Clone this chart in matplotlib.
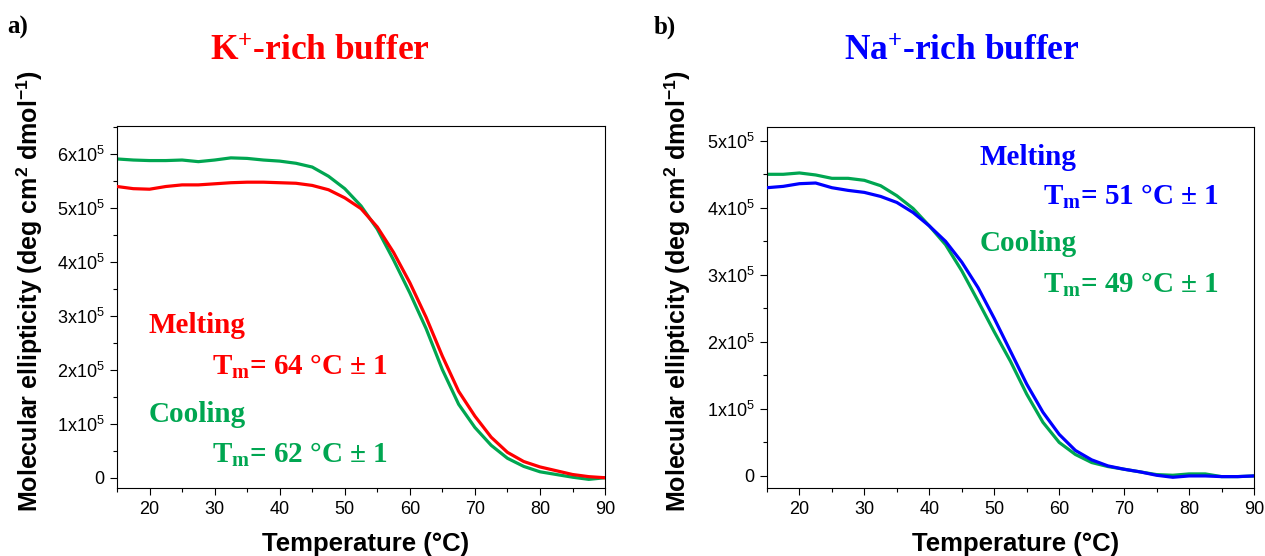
import matplotlib
matplotlib.use("Agg")
import matplotlib.pyplot as plt
from matplotlib.ticker import MultipleLocator, FuncFormatter

plt.rcParams['font.family'] = ['Liberation Sans', 'DejaVu Sans']
plt.rcParams['mathtext.fontset'] = 'custom'
plt.rcParams['mathtext.rm'] = 'Liberation Serif:bold'
plt.rcParams['mathtext.it'] = 'Liberation Serif:italic:bold'
plt.rcParams['mathtext.bf'] = 'Liberation Sans:bold'
plt.rcParams['mathtext.sf'] = 'Liberation Sans'

# ---------------- data (ellipticity in units of 1e5) ----------------
temp = [15, 17.5, 20, 22.5, 25, 27.5, 30, 32.5, 35, 37.5, 40, 42.5, 45, 47.5, 50,
        52.5, 55, 57.5, 60, 62.5, 65, 67.5, 70, 72.5, 75, 77.5, 80, 82.5, 85, 87.5, 90]

k_melting = [5.39, 5.35, 5.34, 5.39, 5.42, 5.42, 5.44, 5.46, 5.47, 5.47, 5.46, 5.45, 5.41, 5.33, 5.18,
             4.98, 4.64, 4.17, 3.61, 2.97, 2.25, 1.60, 1.14, 0.75, 0.47, 0.30, 0.20, 0.13, 0.06, 0.02, 0.0]
k_cooling = [5.90, 5.88, 5.87, 5.87, 5.88, 5.85, 5.88, 5.92, 5.91, 5.88, 5.86, 5.82, 5.75, 5.58, 5.35,
             5.03, 4.60, 4.03, 3.42, 2.76, 2.00, 1.36, 0.93, 0.60, 0.36, 0.21, 0.11, 0.06, 0.01, -0.03, 0.0]

na_melting = [4.30, 4.32, 4.36, 4.37, 4.30, 4.26, 4.23, 4.17, 4.08, 3.93, 3.73, 3.50, 3.19, 2.81, 2.35,
              1.86, 1.37, 0.95, 0.62, 0.38, 0.24, 0.15, 0.10, 0.06, 0.01, -0.02, 0.0, 0.0, -0.01, -0.01, 0.0]
na_cooling = [4.50, 4.50, 4.52, 4.49, 4.44, 4.44, 4.41, 4.33, 4.18, 3.99, 3.73, 3.45, 3.06, 2.61, 2.15,
              1.71, 1.22, 0.80, 0.50, 0.32, 0.20, 0.14, 0.10, 0.06, 0.02, 0.01, 0.03, 0.03, -0.01, -0.01, 0.0]

k_tm_melting = "64"
k_tm_cooling = "62"
na_tm_melting = "51"
na_tm_cooling = "49"

RED = '#FF0000'
GREEN = '#00A651'
BLUE = '#0000FF'

fig = plt.figure(figsize=(12.65, 5.56), dpi=100)
axA = fig.add_axes([0.0925, 0.1223, 0.3858, 0.6511])
axB = fig.add_axes([0.6063, 0.1223, 0.3850, 0.6498])

serif_bold = dict(family=['Liberation Serif', 'DejaVu Serif'], weight='bold')
ANN = 21


def yfmt(v, pos):
    n = int(round(v / 1e5))
    return "0" if n == 0 else r'$\mathsf{%dx10^{5}}$' % n


def style(ax, ylim, label_x):
    ax.set_xlim(15, 90)
    ax.set_ylim(*ylim)
    ax.xaxis.set_major_locator(MultipleLocator(10))
    ax.xaxis.set_minor_locator(MultipleLocator(5))
    ax.yaxis.set_major_locator(MultipleLocator(1e5))
    ax.yaxis.set_minor_locator(MultipleLocator(0.5e5))
    ax.yaxis.set_major_formatter(FuncFormatter(yfmt))
    ax.tick_params(which='both', direction='out', top=False, right=False,
                   labelsize=13, width=0.8, colors='black', pad=4)
    ax.tick_params(which='major', length=5)
    ax.tick_params(which='minor', length=3)
    for s in ax.spines.values():
        s.set_linewidth(0.8)
    ax.set_xlabel('Temperature (\u00b0C)', fontsize=18.5, fontweight='bold')
    ax.set_ylabel(r'Molecular ellipticity (deg cm$^{\mathbf{2}}$ dmol$^{\mathbf{-1}}$)',
                  fontsize=18, fontweight='bold')
    ax.xaxis.set_label_coords(0.51, -0.122)
    ax.yaxis.set_label_coords(label_x, 0.544)


def tm(val):
    return r'T$_{\mathrm{m}}$= ' + val + ' \u00b0C \u00b1 1'


# Panel a
axA.plot(temp, [v * 1e5 for v in k_melting], color=RED, lw=2.3, zorder=3)
axA.plot(temp, [v * 1e5 for v in k_cooling], color=GREEN, lw=2.3, zorder=2)
style(axA, (-0.19e5, 6.51e5), -0.150)
axA.text(19.8, 2.68e5, "Melting", color=RED, fontsize=ANN, va='baseline', **serif_bold)
axA.text(29.55, 1.90e5, tm(k_tm_melting), color=RED, fontsize=ANN, va='baseline', **serif_bold)
axA.text(19.8, 1.04e5, "Cooling", color=GREEN, fontsize=ANN, va='baseline', **serif_bold)
axA.text(29.55, 0.27e5, tm(k_tm_cooling), color=GREEN, fontsize=ANN, va='baseline', **serif_bold)

# Panel b
axB.plot(temp, [v * 1e5 for v in na_melting], color=BLUE, lw=2.3, zorder=3)
axB.plot(temp, [v * 1e5 for v in na_cooling], color=GREEN, lw=2.3, zorder=2)
style(axB, (-0.18e5, 5.21e5), -0.154)
axB.text(47.7, 4.64e5, "Melting", color=BLUE, fontsize=ANN, va='baseline', **serif_bold)
axB.text(57.5, 4.04e5, tm(na_tm_melting), color=BLUE, fontsize=ANN, va='baseline', **serif_bold)
axB.text(47.7, 3.35e5, "Cooling", color=GREEN, fontsize=ANN, va='baseline', **serif_bold)
axB.text(57.5, 2.73e5, tm(na_tm_cooling), color=GREEN, fontsize=ANN, va='baseline', **serif_bold)

# Titles and panel letters
fig.text(0.253, 0.906, r'K$^{\mathrm{+}}$-rich buffer', color=RED, fontsize=25.5,
         ha='center', va='center', **serif_bold)
fig.text(0.760, 0.906, r'Na$^{\mathrm{+}}$-rich buffer', color=BLUE, fontsize=25.5,
         ha='center', va='center', **serif_bold)
fig.text(0.006, 0.951, 'a)', fontsize=18, ha='left', va='center', **serif_bold)
fig.text(0.517, 0.951, 'b)', fontsize=18, ha='left', va='center', **serif_bold)

fig.savefig('out.png', dpi=100)
